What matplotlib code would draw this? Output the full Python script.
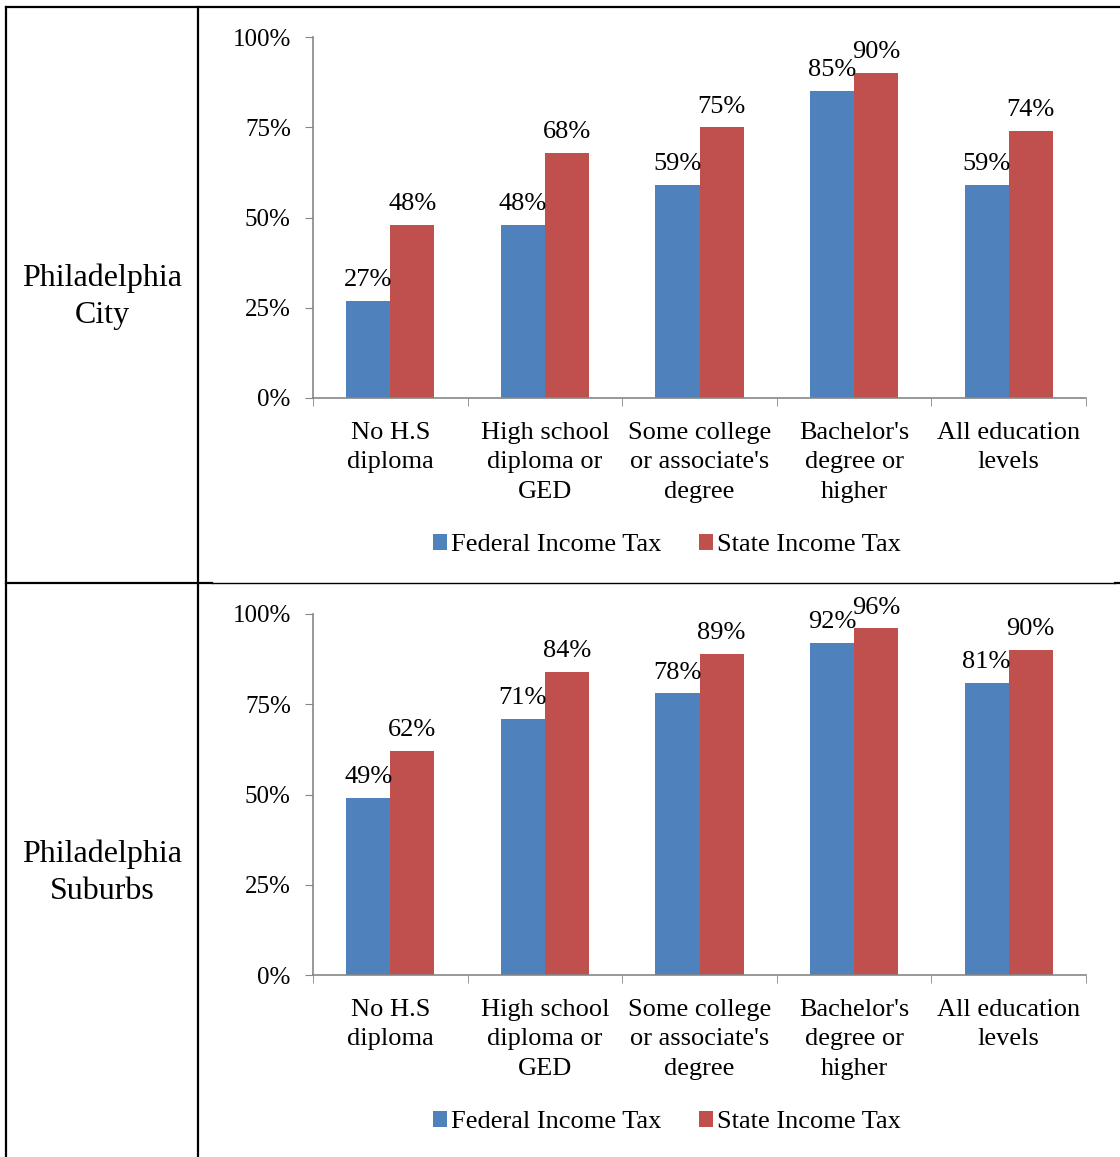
import numpy as np
import matplotlib.pyplot as plt
from matplotlib.lines import Line2D

plt.rcParams['font.family'] = ['Liberation Serif', 'DejaVu Serif']

# kategorije obrazovanja
categories = ["No H.S\ndiploma", "High school\ndiploma or\nGED",
              "Some college\nor associate's\ndegree", "Bachelor's\ndegree or\nhigher",
              "All education\nlevels"]
series_names = ["Federal Income Tax", "State Income Tax"]
colors = ["#4F81BD", "#C0504D"]

# postoci za grad i predgrada
city_federal = [27, 48, 59, 85, 59]
city_state = [48, 68, 75, 90, 74]
suburbs_federal = [49, 71, 78, 92, 81]
suburbs_state = [62, 84, 89, 96, 90]

row_labels = ["Philadelphia\nCity", "Philadelphia\nSuburbs"]
y_ticks = [0, 25, 50, 75, 100]

W, H = 1120, 1157
fig = plt.figure(figsize=(W / 100, H / 100), dpi=100)
FS = 19
grey = "#868686"


def px(x, y):
    return x / W, 1 - y / H


def draw_chart(bottom_px, federal, state):
    ax = fig.add_axes([313 / W, 1 - bottom_px / H, 773 / W, 361 / H])
    x = np.arange(len(categories))
    w = 0.285
    for vals, off, c, name in [(federal, -w / 2, colors[0], series_names[0]),
                               (state, w / 2, colors[1], series_names[1])]:
        bars = ax.bar(x + off, vals, width=w, color=c, label=name)
        for b, v in zip(bars, vals):
            ax.annotate(f"{v}%", (b.get_x() + b.get_width() / 2, v),
                        xytext=(0, 7), textcoords="offset points",
                        ha="center", va="bottom", fontsize=FS)
    ax.set_xlim(-0.5, len(categories) - 0.5)
    ax.set_ylim(0, 100)
    ax.set_yticks(y_ticks)
    ax.set_yticklabels([f"{t}%" for t in y_ticks])
    # oznake kategorija bez crtica, crtice izmedju kategorija
    ax.set_xticks(x)
    ax.set_xticklabels(categories, linespacing=1.42)
    ax.tick_params(axis="x", length=0, pad=17.5, labelsize=FS)
    ax.set_xticks(np.arange(-0.5, len(categories)), minor=True)
    ax.tick_params(axis="x", which="minor", length=6, color=grey, direction="out")
    ax.tick_params(axis="y", length=6, color=grey, labelsize=18, pad=10)
    for s in ["top", "right"]:
        ax.spines[s].set_visible(False)
    for s in ["left", "bottom"]:
        ax.spines[s].set_color(grey)
        ax.spines[s].set_linewidth(1.2)
    ax.legend(loc="center", bbox_to_anchor=(0.458, -147 / 361), ncol=2,
              frameon=False, fontsize=FS, handlelength=0.55, handleheight=0.55,
              handletextpad=0.15, columnspacing=1.4)
    return ax


draw_chart(398, city_federal, city_state)
draw_chart(975, suburbs_federal, suburbs_state)

# okviri tablice
def line(x0, y0, x1, y1, lw=1.6):
    (a, b), (c, d) = px(x0, y0), px(x1, y1)
    fig.add_artist(Line2D([a, c], [b, d], color="black", lw=lw))

line(6, 7, 1120, 7)
line(6, 7, 6, H)
line(198, 7, 198, H)
line(6, 583, 212, 583)
line(212, 583, 1115, 583, lw=1.0)
line(1115, 583, 1120, 583)

for lbl, y in zip(row_labels, [297, 873]):
    fx, fy = px(102, y)
    fig.text(fx, fy, lbl, ha="center", va="center", fontsize=23, linespacing=1.35)

fig.savefig("out.png", dpi=100)
